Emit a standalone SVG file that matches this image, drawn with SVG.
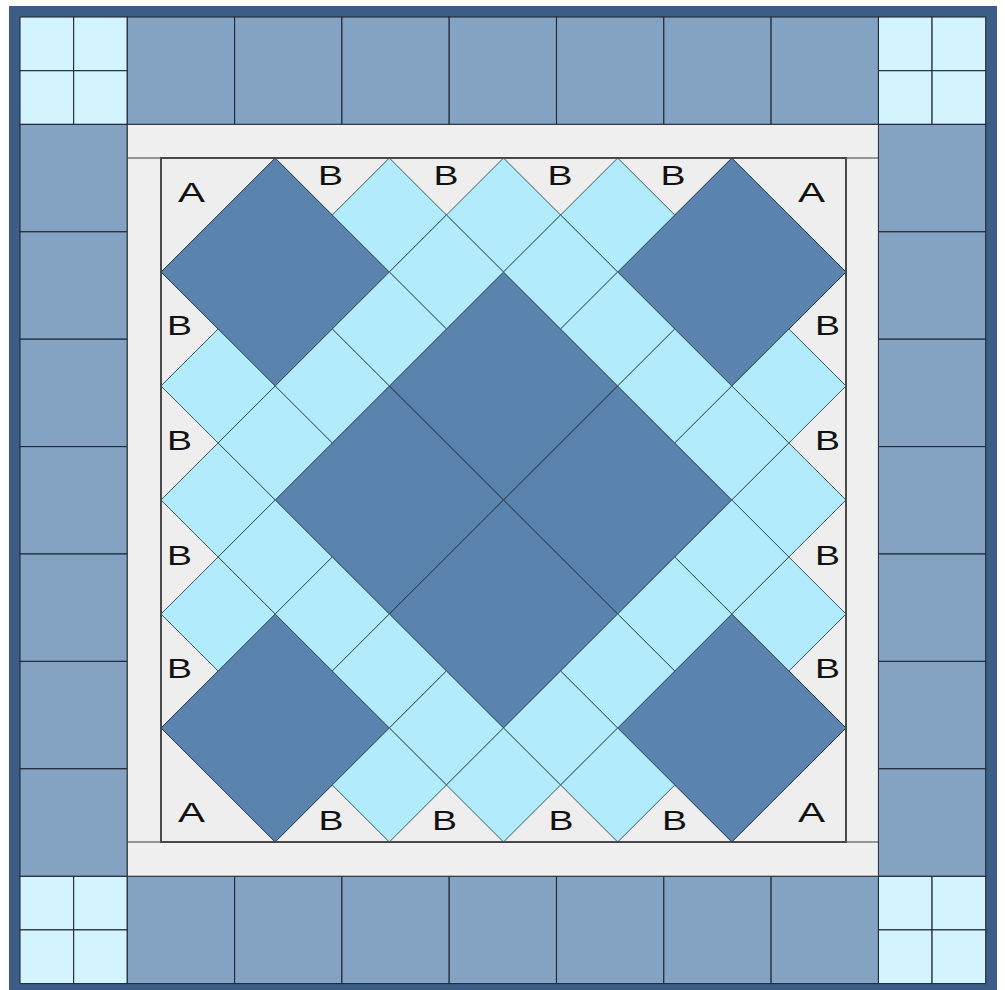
<svg xmlns="http://www.w3.org/2000/svg" xmlns:xlink="http://www.w3.org/1999/xlink" width="1005" height="990" viewBox="0 0 1005 990">
<style>
.frame{fill:#3b5d86}
.tile{fill:#84a2c2;stroke:#1f2a36;stroke-width:1.1}
.pale{fill:#d3f3fd;stroke:#1f2a36;stroke-width:1.1}
.sash{fill:#f0f0f0;stroke:#2a2f35;stroke-width:1}
.inner{fill:#eeeeee;stroke:#444;stroke-width:1.6}
.dk{fill:#5a83ad;stroke:#24374c;stroke-width:1}
.lt{fill:#b2ebfb;stroke:#2e4a5a;stroke-width:0.9}
.lbl{font-family:"Liberation Sans",Arial,sans-serif;font-size:28px;fill:#111}
</style>
<defs>
<polygon id="ld" points="0,-57 57.08,0 0,57 -57.08,0"/>
<polygon id="dd" points="0,-114 114.17,0 0,114 -114.17,0"/>
</defs>
<g id="frame">
<rect class="frame" x="9" y="6" width="988" height="992"/>
</g>
<g id="border">
<g id="corner-tl">
<rect class="pale" x="20" y="17" width="53.65" height="53.7"/>
<rect class="pale" x="73.65" y="17" width="53.65" height="53.7"/>
<rect class="pale" x="20" y="70.7" width="53.65" height="53.7"/>
<rect class="pale" x="73.65" y="70.7" width="53.65" height="53.7"/>
</g>
<g id="corner-tr">
<rect class="pale" x="878.4" y="17" width="53.65" height="53.7"/>
<rect class="pale" x="932.05" y="17" width="53.65" height="53.7"/>
<rect class="pale" x="878.4" y="70.7" width="53.65" height="53.7"/>
<rect class="pale" x="932.05" y="70.7" width="53.65" height="53.7"/>
</g>
<g id="corner-bl">
<rect class="pale" x="20" y="876.2" width="53.65" height="53.7"/>
<rect class="pale" x="73.65" y="876.2" width="53.65" height="53.7"/>
<rect class="pale" x="20" y="929.9" width="53.65" height="53.7"/>
<rect class="pale" x="73.65" y="929.9" width="53.65" height="53.7"/>
</g>
<g id="corner-br">
<rect class="pale" x="878.4" y="876.2" width="53.65" height="53.7"/>
<rect class="pale" x="932.05" y="876.2" width="53.65" height="53.7"/>
<rect class="pale" x="878.4" y="929.9" width="53.65" height="53.7"/>
<rect class="pale" x="932.05" y="929.9" width="53.65" height="53.7"/>
</g>
<g id="border-top">
<rect class="tile" x="127.3" y="17" width="107.3" height="107.4"/>
<rect class="tile" x="234.6" y="17" width="107.3" height="107.4"/>
<rect class="tile" x="341.9" y="17" width="107.3" height="107.4"/>
<rect class="tile" x="449.2" y="17" width="107.3" height="107.4"/>
<rect class="tile" x="556.5" y="17" width="107.3" height="107.4"/>
<rect class="tile" x="663.8" y="17" width="107.3" height="107.4"/>
<rect class="tile" x="771.1" y="17" width="107.3" height="107.4"/>
</g>
<g id="border-bottom">
<rect class="tile" x="127.3" y="876.2" width="107.3" height="107.4"/>
<rect class="tile" x="234.6" y="876.2" width="107.3" height="107.4"/>
<rect class="tile" x="341.9" y="876.2" width="107.3" height="107.4"/>
<rect class="tile" x="449.2" y="876.2" width="107.3" height="107.4"/>
<rect class="tile" x="556.5" y="876.2" width="107.3" height="107.4"/>
<rect class="tile" x="663.8" y="876.2" width="107.3" height="107.4"/>
<rect class="tile" x="771.1" y="876.2" width="107.3" height="107.4"/>
</g>
<g id="border-left">
<rect class="tile" x="20" y="124.4" width="107.3" height="107.4"/>
<rect class="tile" x="20" y="231.8" width="107.3" height="107.4"/>
<rect class="tile" x="20" y="339.2" width="107.3" height="107.4"/>
<rect class="tile" x="20" y="446.6" width="107.3" height="107.4"/>
<rect class="tile" x="20" y="554" width="107.3" height="107.4"/>
<rect class="tile" x="20" y="661.4" width="107.3" height="107.4"/>
<rect class="tile" x="20" y="768.8" width="107.3" height="107.4"/>
</g>
<g id="border-right">
<rect class="tile" x="878.4" y="124.4" width="107.3" height="107.4"/>
<rect class="tile" x="878.4" y="231.8" width="107.3" height="107.4"/>
<rect class="tile" x="878.4" y="339.2" width="107.3" height="107.4"/>
<rect class="tile" x="878.4" y="446.6" width="107.3" height="107.4"/>
<rect class="tile" x="878.4" y="554" width="107.3" height="107.4"/>
<rect class="tile" x="878.4" y="661.4" width="107.3" height="107.4"/>
<rect class="tile" x="878.4" y="768.8" width="107.3" height="107.4"/>
</g>
</g>
<g id="sashing">
<rect class="sash" x="127.3" y="124.4" width="751.1" height="751.8"/>
<line x1="127.3" y1="158" x2="878.4" y2="158" stroke="#3a3a3a" stroke-width="1.2"/>
<line x1="127.3" y1="842" x2="878.4" y2="842" stroke="#3a3a3a" stroke-width="1.2"/>
</g>
<g id="center-block">
<rect class="inner" x="161" y="158" width="685" height="684"/>
<g id="dark-diamonds">
<use href="#dd" class="dk" x="275.17" y="272"/>
<use href="#dd" class="dk" x="731.83" y="272"/>
<use href="#dd" class="dk" x="275.17" y="728"/>
<use href="#dd" class="dk" x="731.83" y="728"/>
<use href="#dd" class="dk" x="503.5" y="386"/>
<use href="#dd" class="dk" x="389.33" y="500"/>
<use href="#dd" class="dk" x="617.67" y="500"/>
<use href="#dd" class="dk" x="503.5" y="614"/>
</g>
<g id="light-squares">
<use href="#ld" class="lt" x="389.33" y="215"/>
<use href="#ld" class="lt" x="503.5" y="215"/>
<use href="#ld" class="lt" x="617.67" y="215"/>
<use href="#ld" class="lt" x="446.42" y="272"/>
<use href="#ld" class="lt" x="560.58" y="272"/>
<use href="#ld" class="lt" x="389.33" y="329"/>
<use href="#ld" class="lt" x="617.67" y="329"/>
<use href="#ld" class="lt" x="218.08" y="386"/>
<use href="#ld" class="lt" x="332.25" y="386"/>
<use href="#ld" class="lt" x="674.75" y="386"/>
<use href="#ld" class="lt" x="788.92" y="386"/>
<use href="#ld" class="lt" x="275.17" y="443"/>
<use href="#ld" class="lt" x="731.83" y="443"/>
<use href="#ld" class="lt" x="218.08" y="500"/>
<use href="#ld" class="lt" x="788.92" y="500"/>
<use href="#ld" class="lt" x="275.17" y="557"/>
<use href="#ld" class="lt" x="731.83" y="557"/>
<use href="#ld" class="lt" x="218.08" y="614"/>
<use href="#ld" class="lt" x="332.25" y="614"/>
<use href="#ld" class="lt" x="674.75" y="614"/>
<use href="#ld" class="lt" x="788.92" y="614"/>
<use href="#ld" class="lt" x="389.33" y="671"/>
<use href="#ld" class="lt" x="617.67" y="671"/>
<use href="#ld" class="lt" x="446.42" y="728"/>
<use href="#ld" class="lt" x="560.58" y="728"/>
<use href="#ld" class="lt" x="389.33" y="785"/>
<use href="#ld" class="lt" x="503.5" y="785"/>
<use href="#ld" class="lt" x="617.67" y="785"/>
</g>
<rect x="161" y="158" width="685" height="684" fill="none" stroke="#444" stroke-width="1.6"/>
</g>
<g id="labels">
<text class="lbl" x="178" y="202" textLength="27" lengthAdjust="spacingAndGlyphs">A</text>
<text class="lbl" x="798" y="202" textLength="27" lengthAdjust="spacingAndGlyphs">A</text>
<text class="lbl" x="178" y="822" textLength="27" lengthAdjust="spacingAndGlyphs">A</text>
<text class="lbl" x="798" y="822" textLength="27" lengthAdjust="spacingAndGlyphs">A</text>
<text class="lbl" x="318" y="185" textLength="25" lengthAdjust="spacingAndGlyphs">B</text>
<text class="lbl" x="433.5" y="185" textLength="25" lengthAdjust="spacingAndGlyphs">B</text>
<text class="lbl" x="547.5" y="185" textLength="25" lengthAdjust="spacingAndGlyphs">B</text>
<text class="lbl" x="660.5" y="185" textLength="25" lengthAdjust="spacingAndGlyphs">B</text>
<text class="lbl" x="318.5" y="830" textLength="25" lengthAdjust="spacingAndGlyphs">B</text>
<text class="lbl" x="432" y="830" textLength="25" lengthAdjust="spacingAndGlyphs">B</text>
<text class="lbl" x="548.5" y="830" textLength="25" lengthAdjust="spacingAndGlyphs">B</text>
<text class="lbl" x="662" y="830" textLength="25" lengthAdjust="spacingAndGlyphs">B</text>
<text class="lbl" x="167" y="335" textLength="25" lengthAdjust="spacingAndGlyphs">B</text>
<text class="lbl" x="167" y="450" textLength="25" lengthAdjust="spacingAndGlyphs">B</text>
<text class="lbl" x="167" y="565" textLength="25" lengthAdjust="spacingAndGlyphs">B</text>
<text class="lbl" x="167" y="678" textLength="25" lengthAdjust="spacingAndGlyphs">B</text>
<text class="lbl" x="815" y="335" textLength="25" lengthAdjust="spacingAndGlyphs">B</text>
<text class="lbl" x="815" y="450" textLength="25" lengthAdjust="spacingAndGlyphs">B</text>
<text class="lbl" x="815" y="565" textLength="25" lengthAdjust="spacingAndGlyphs">B</text>
<text class="lbl" x="815" y="678" textLength="25" lengthAdjust="spacingAndGlyphs">B</text>
</g>
</svg>
